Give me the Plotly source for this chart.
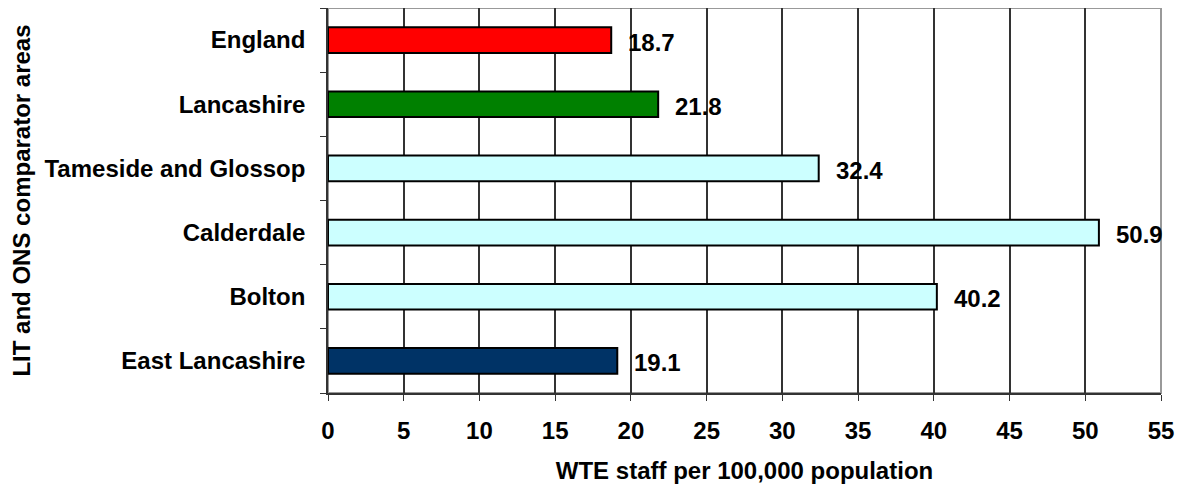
import plotly.graph_objects as go

categories = ["East Lancashire", "Bolton", "Calderdale", "Tameside and Glossop", "Lancashire", "England"]
values = [19.1, 40.2, 50.9, 32.4, 21.8, 18.7]
colors = ["#003366", "#CCFFFF", "#CCFFFF", "#CCFFFF", "#008000", "#FF0000"]
x_ticks = list(range(0, 56, 5))

FONT = "Liberation Sans, Arial, sans-serif"
FS = 24

fig = go.Figure()
fig.add_trace(go.Bar(
    y=categories, x=values, orientation="h",
    marker=dict(color=colors, line=dict(color="black", width=2)),
    width=0.4,
    hoverinfo="x+y",
))

for c, v in zip(categories, values):
    fig.add_annotation(x=v, y=c, text="<b>%.1f</b>" % v, showarrow=False,
                       xanchor="left", xshift=15, yshift=-2,
                       font=dict(family=FONT, size=FS, color="black"))

# page body has an 8px margin, so the figure is sized to the remaining area
fig.update_layout(
    width=1176, height=481,
    margin=dict(l=320, r=23, t=0, b=96, autoexpand=False),
    paper_bgcolor="white", plot_bgcolor="white",
    showlegend=False,
    font=dict(family=FONT, size=FS, color="black"),
    xaxis=dict(
        range=[0, 55], tickvals=x_ticks, ticktext=["<b>%d</b>" % t for t in x_ticks],
        showgrid=True, gridcolor="#333333", gridwidth=1.5,
        showline=True, linecolor="#333333", linewidth=1.5,
        ticks="outside", ticklen=6, tickcolor="#333333",
        ticklabelstandoff=9,
        zeroline=False, automargin=False,
        title=dict(text="<b>WTE staff per 100,000 population</b>", standoff=20,
                   font=dict(family=FONT, size=FS)),
        tickfont=dict(family=FONT, size=FS),
    ),
    yaxis=dict(
        type="category", categoryorder="array", categoryarray=categories,
        tickvals=categories, ticktext=["<b>%s</b>" % c for c in categories],
        tickson="boundaries", ticks="outside", ticklen=6, tickcolor="#333333",
        ticklabelstandoff=16,
        showline=True, linecolor="#333333", linewidth=1.5,
        showgrid=False, zeroline=False, automargin=False,
        title=dict(text="<b>LIT and ONS comparator areas</b>", standoff=14,
                   font=dict(family=FONT, size=FS)),
        tickfont=dict(family=FONT, size=FS),
    ),
    shapes=[dict(type="rect", xref="paper", yref="paper", x0=0, x1=1, y0=0, y1=1,
                 line=dict(color="#999999", width=2), layer="below")],
)

fig.write_html("out.html")
